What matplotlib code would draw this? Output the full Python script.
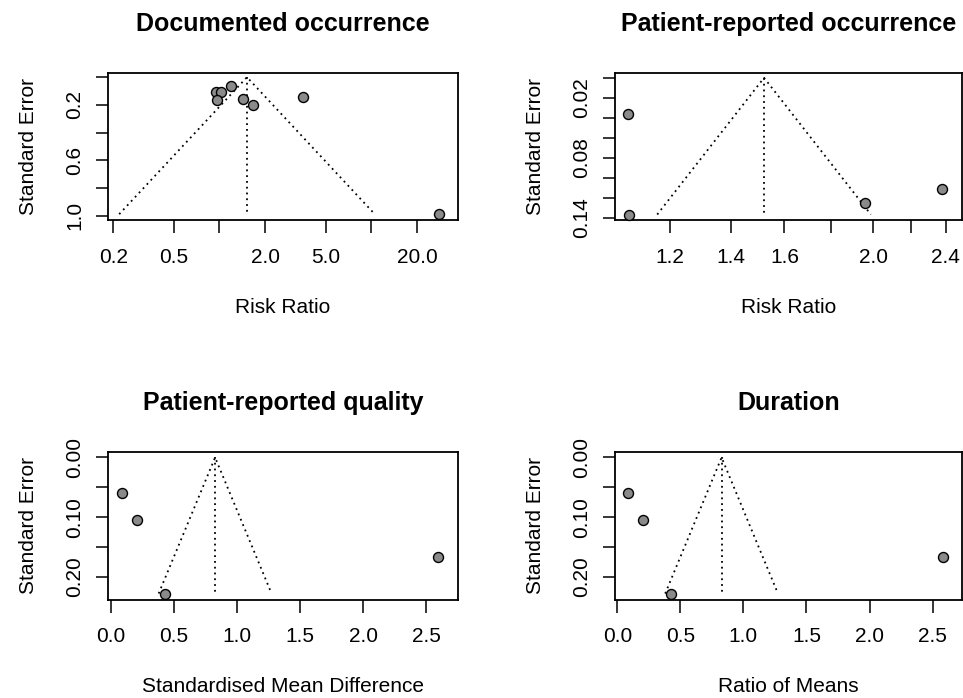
import numpy as np
import matplotlib.pyplot as plt
from matplotlib.ticker import FixedLocator, FixedFormatter, NullLocator

plt.rcParams['font.family'] = ['Liberation Sans', 'DejaVu Sans']

# Documented occurrence (risk ratio, log scale)
doc_rr = [0.953, 1.03, 0.958, 1.19, 1.44, 1.67, 3.57, 28.0]
doc_se = [0.106, 0.106, 0.165, 0.063, 0.156, 0.201, 0.146, 0.988]
doc_center = 1.52
doc_xticks = [0.2, 0.5, 1.0, 2.0, 5.0, 10.0, 20.0]
doc_xlabels = ['0.2', '0.5', '', '2.0', '5.0', '', '20.0']
doc_yticks = [0.0, 0.2, 0.4, 0.6, 0.8, 1.0]
doc_ylabels = ['', '0.2', '', '0.6', '', '1.0']

# Patient-reported occurrence (risk ratio, log scale)
pro_rr = [1.081, 1.083, 1.96, 2.38]
pro_se = [0.0367, 0.137, 0.1254, 0.111]
pro_center = 1.52
pro_xticks = [1.2, 1.4, 1.6, 1.8, 2.0, 2.2, 2.4]
pro_xlabels = ['1.2', '1.4', '1.6', '', '2.0', '', '2.4']
pro_yticks = [0.0, 0.02, 0.04, 0.06, 0.08, 0.10, 0.12, 0.14]
pro_ylabels = ['', '0.02', '', '', '0.08', '', '', '0.14']

# Patient-reported quality (SMD)
qual_smd = [0.087, 0.206, 0.431, 2.59]
qual_se = [0.060, 0.1045, 0.228, 0.1667]
qual_center = 0.827

# Duration (ratio of means)
dur_rom = [0.083, 0.206, 0.426, 2.58]
dur_se = [0.060, 0.1045, 0.228, 0.1667]
dur_center = 0.827

lin_xticks = [0.0, 0.5, 1.0, 1.5, 2.0, 2.5]
lin_xlabels = ['0.0', '0.5', '1.0', '1.5', '2.0', '2.5']
lin_yticks = [0.0, 0.05, 0.10, 0.15, 0.20]
lin_ylabels = ['0.00', '', '0.10', '', '0.20']

W, H = 963, 698
fig = plt.figure(figsize=(W / 100, H / 100), dpi=100)


def add_axes(left, top, right, bottom):
    return fig.add_axes([left / W, 1 - bottom / H, (right - left) / W, (bottom - top) / H])


def funnel(ax, x, se, center, log, title, xlabel, xlim, ylim,
           xticks, xlabels, yticks, ylabels, w_px, h_px):
    smax = max(se)
    if log:
        lo = np.exp(np.log(center) - 1.96 * smax)
        hi = np.exp(np.log(center) + 1.96 * smax)
        ax.set_xscale('log')
    else:
        lo = center - 1.96 * smax
        hi = center + 1.96 * smax
    dots = (0, (1, 2.2))
    ax.plot([lo, center, hi], [smax, 0, smax], color='black', lw=1.3, linestyle=dots)
    ax.plot([center, center], [0, smax], color='black', lw=1.3, linestyle=dots)
    ax.plot(x, se, 'o', ms=7.2, mfc='#8a8a8a', mec='black', mew=1.0, clip_on=False, zorder=3)

    ax.set_xlim(*xlim)
    ax.set_ylim(*ylim)
    ax.xaxis.set_major_locator(FixedLocator(xticks))
    ax.xaxis.set_major_formatter(FixedFormatter(xlabels))
    ax.xaxis.set_minor_locator(NullLocator())
    ax.yaxis.set_major_locator(FixedLocator(yticks))
    ax.yaxis.set_major_formatter(FixedFormatter(ylabels))
    ax.yaxis.set_minor_locator(NullLocator())

    ax.tick_params(axis='both', direction='out', length=9, width=1.1, labelsize=15, color='black')
    ax.tick_params(axis='x', pad=11)
    ax.tick_params(axis='y', pad=8, labelrotation=90)
    for lab in ax.get_yticklabels():
        lab.set_va('center')
    for s in ax.spines.values():
        s.set_linewidth(1.3)

    ax.set_title(title, fontsize=18, fontweight='bold', pad=30)
    ax.set_xlabel(xlabel, fontsize=15)
    ax.set_ylabel('Standard Error', fontsize=15)
    ax.xaxis.set_label_coords(0.5, -78 / h_px)
    ax.yaxis.set_label_coords(-70 / w_px, 0.5)


ax1 = add_axes(108, 73, 458, 220)
funnel(ax1, doc_rr, doc_se, doc_center, True, 'Documented occurrence', 'Risk Ratio',
       (0.185, 37.2), (1.03, -0.03), doc_xticks, doc_xlabels, doc_yticks, doc_ylabels, 350, 147)

ax2 = add_axes(615, 73, 962, 220)
funnel(ax2, pro_rr, pro_se, pro_center, True, 'Patient-reported occurrence', 'Risk Ratio',
       (1.045, 2.50), (0.1425, -0.0048), pro_xticks, pro_xlabels, pro_yticks, pro_ylabels, 347, 147)

ax3 = add_axes(108, 452, 458, 599.5)
funnel(ax3, qual_smd, qual_se, qual_center, False, 'Patient-reported quality',
       'Standardised Mean Difference', (-0.021, 2.75), (0.238, -0.0092),
       lin_xticks, lin_xlabels, lin_yticks, lin_ylabels, 350, 147.5)

ax4 = add_axes(615, 452, 962, 599.5)
funnel(ax4, dur_rom, dur_se, dur_center, False, 'Duration', 'Ratio of Means',
       (-0.018, 2.733), (0.238, -0.0092),
       lin_xticks, lin_xlabels, lin_yticks, lin_ylabels, 347, 147.5)

fig.savefig('out.png', dpi=100)
